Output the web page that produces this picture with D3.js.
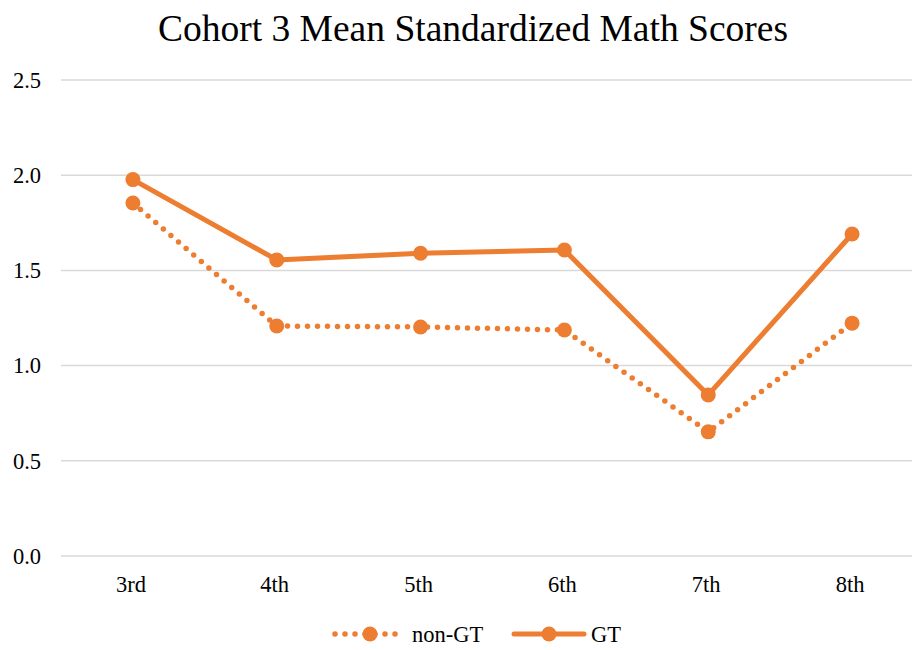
<!DOCTYPE html>
<html>
<head>
<meta charset="utf-8">
<script src="https://cdn.jsdelivr.net/npm/d3@7"></script>
<style>
  body { margin: 0; background: #fff; }
  svg { display: block; font-family: "Liberation Serif", "Times New Roman", serif; }
</style>
</head>
<body>
<div class="c_chart"></div>
<script>
/* data */
const grades = ["3rd", "4th", "5th", "6th", "7th", "8th"];
const nonGT = [1.854, 1.208, 1.203, 1.187, 0.652, 1.223];
const gt = [1.977, 1.555, 1.590, 1.607, 0.846, 1.691];
const yTicks = [0, 0.5, 1.0, 1.5, 2.0, 2.5];

const width = 912;
const height = 650;
const margin = {top: 80, right: -12, bottom: 94, left: 61};
const orange = "#ED7D31";

let svg = d3.select(".c_chart")
  .append("svg")
  .attr("width", width)
  .attr("height", height);

const x = d3.scalePoint()
  .domain(grades)
  .range([margin.left, width - margin.right])
  .padding(0.5);

const y = d3.scaleLinear()
  .domain([0, 2.5])
  .range([height - margin.bottom, margin.top]);

/* title */
svg.append("text")
  .attr("x", 473)
  .attr("y", 41)
  .attr("text-anchor", "middle")
  .attr("font-size", 37.5)
  .attr("fill", "#000")
  .text("Cohort 3 Mean Standardized Math Scores");

/* gridlines */
svg.append("g")
  .selectAll("line")
  .data(yTicks)
  .join("line")
  .attr("x1", margin.left)
  .attr("x2", width)
  .attr("y1", d => y(d))
  .attr("y2", d => y(d))
  .attr("stroke", "#d9d9d9")
  .attr("stroke-width", 1.5);

/* y labels */
svg.append("g")
  .selectAll("text")
  .data(yTicks)
  .join("text")
  .attr("x", 41)
  .attr("y", d => y(d))
  .attr("dy", "0.35em")
  .attr("text-anchor", "end")
  .attr("font-size", 22.5)
  .text(d => d3.format(".1f")(d));

/* x labels */
svg.append("g")
  .selectAll("text")
  .data(grades)
  .join("text")
  .attr("x", d => x(d) - 2)
  .attr("y", 592)
  .attr("text-anchor", "middle")
  .attr("font-size", 22.5)
  .text(d => d);

/* series */
const series = [
  {name: "non-GT", values: nonGT, dash: "0 10"},
  {name: "GT", values: gt, dash: null}
];

const line = d3.line()
  .x((d, i) => x(grades[i]))
  .y(d => y(d));

series.forEach(s => {
  svg.append("path")
    .datum(s.values)
    .attr("d", line)
    .attr("fill", "none")
    .attr("stroke", orange)
    .attr("stroke-width", s.dash ? 5.5 : 5)
    .attr("stroke-linecap", "round")
    .attr("stroke-linejoin", "round")
    .attr("stroke-dasharray", s.dash);

  svg.append("g")
    .selectAll("circle")
    .data(s.values)
    .join("circle")
    .attr("cx", (d, i) => x(grades[i]))
    .attr("cy", d => y(d))
    .attr("r", 7.5)
    .attr("fill", orange);
});

/* legend */
const legend = [
  {name: "non-GT", x0: 335, dash: "0 10"},
  {name: "GT", x0: 514, dash: null}
];
legend.forEach(l => {
  const g = svg.append("g");
  g.append("line")
    .attr("x1", l.x0)
    .attr("x2", l.x0 + 70)
    .attr("y1", 634)
    .attr("y2", 634)
    .attr("stroke", orange)
    .attr("stroke-width", l.dash ? 5.5 : 5)
    .attr("stroke-linecap", "round")
    .attr("stroke-dasharray", l.dash);
  g.append("circle")
    .attr("cx", l.x0 + 35)
    .attr("cy", 634)
    .attr("r", 7.5)
    .attr("fill", orange);
  g.append("text")
    .attr("x", l.x0 + 77)
    .attr("y", 634)
    .attr("dy", "0.35em")
    .attr("font-size", 22.5)
    .text(l.name);
});
</script>
</body>
</html>
